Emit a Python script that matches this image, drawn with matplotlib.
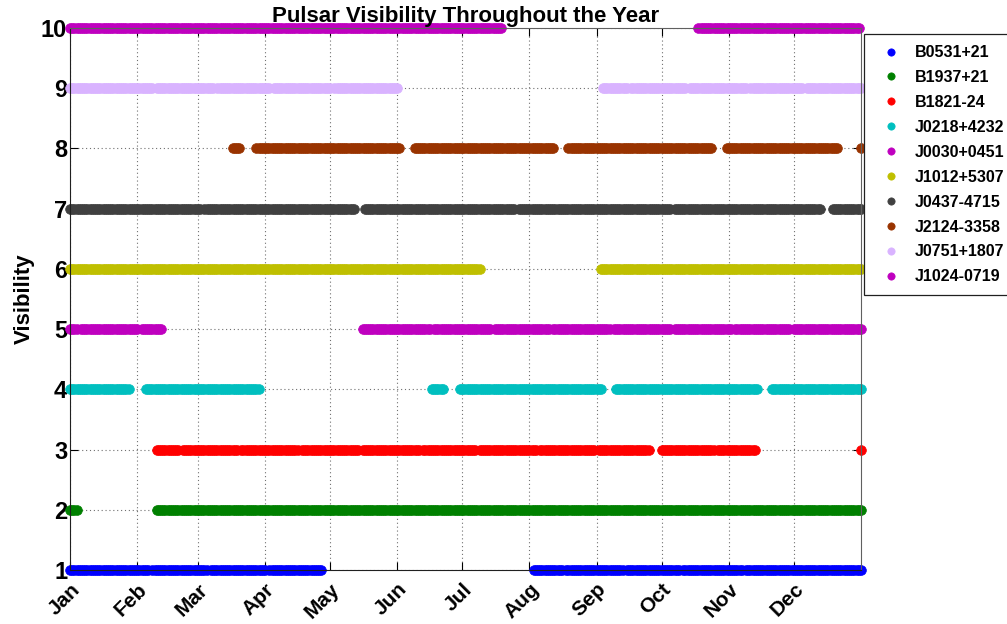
import numpy as np
import matplotlib
matplotlib.use("Agg")
import matplotlib.pyplot as plt
import matplotlib.transforms as mtransforms

names = ["B0531+21", "B1937+21", "B1821-24", "J0218+4232", "J0030+0451",
         "J1012+5307", "J0437-4715", "J2124-3358", "J0751+1807", "J1024-0719"]
colors = ["#0000ff", "#008000", "#ff0000", "#00bfbf", "#bf00bf",
          "#bfbf00", "#404040", "#993300", "#d9b3ff", "#bf00bf"]
levels = [1, 2, 3, 4, 5, 6, 7, 8, 9, 10]

# visible day ranges (day of year, inclusive) for each pulsar
segments = [
    [(1, 117), (215, 366)],
    [(1, 4), (41, 366)],
    [(41, 268), (274, 317), (366, 366)],
    [(1, 28), (36, 88), (168, 173), (181, 246), (253, 318), (325, 366)],
    [(1, 43), (136, 366)],
    [(1, 190), (246, 366)],
    [(1, 132), (137, 347), (353, 366)],
    [(76, 79), (87, 153), (160, 224), (231, 297), (304, 355), (366, 366)],
    [(1, 152), (247, 366)],
    [(1, 200), (291, 365)],
]
# single missing days inside the ranges
skip_days = [
    [38, 65, 92, 229, 257, 283, 312],
    [],
    [52, 79, 107, 135, 163, 189, 217, 244, 299],
    [],
    [5, 33, 168, 196, 223, 251, 279, 307, 334],
    [],
    [62, 207, 279],
    [],
    [40, 68, 94, 122, 259, 286, 314, 340],
    [],
]

month_days = [1, 32, 60, 91, 121, 152, 182, 213, 244, 274, 305, 335]
month_labels = ["Jan", "Feb", "Mar", "Apr", "May", "Jun",
                "Jul", "Aug", "Sep", "Oct", "Nov", "Dec"]


def visible_days(segs, skips):
    days = []
    for start, end in segs:
        days.extend(d for d in range(start, end + 1) if d not in skips)
    return np.array(days)


plt.rcParams["font.family"] = ["Liberation Sans", "DejaVu Sans"]
plt.rcParams["font.weight"] = "bold"

fig = plt.figure(figsize=(10.07, 6.24), dpi=100)
ax = fig.add_axes([70 / 1007, 54 / 624, 791 / 1007, 542 / 624])

for name, color, level, segs, skips in zip(names, colors, levels, segments, skip_days):
    days = visible_days(segs, skips)
    ax.plot(days, np.full(len(days), level), linestyle="none", marker="o",
            markersize=7, markerfacecolor=color, markeredgecolor=color,
            markeredgewidth=0.5, clip_on=False, label=name)

ax.set_xlim(1, 366)
ax.set_ylim(1, 10)
ax.set_yticks(levels)
ax.set_xticks(month_days)
ax.set_xticklabels(month_labels, rotation=45, ha="right", va="top",
                   rotation_mode="anchor", fontsize=15, fontweight="bold")
# nudge the rotated month labels a little to the right
shift = mtransforms.ScaledTranslation(5 / 100, 0, fig.dpi_scale_trans)
for lab in ax.get_xticklabels():
    lab.set_transform(lab.get_transform() + shift)
ax.tick_params(axis="y", labelsize=17, pad=2)
ax.tick_params(direction="in", length=6, width=0.8, top=True, right=True)
ax.tick_params(axis="x", pad=7)
for lab in ax.get_yticklabels():
    lab.set_fontweight("bold")

ax.grid(True, linestyle=(0, (1, 2.5)), color="#707070", linewidth=0.8)
ax.set_axisbelow(True)
for side in ["left", "bottom"]:
    ax.spines[side].set_color("#202020")
for side in ["top", "right"]:
    ax.spines[side].set_color("#606060")

ax.set_ylabel("Visibility", fontsize=16, fontweight="bold", labelpad=4.5)
ax.set_title("Pulsar Visibility Throughout the Year", fontsize=16,
             fontweight="bold", pad=4)

leg = ax.legend(loc="upper left", bbox_to_anchor=(864 / 1007, 1 - 34 / 624),
                bbox_transform=fig.transFigure, fontsize=11.5, numpoints=1,
                markerscale=0.75, handlelength=2.0, handletextpad=0.5,
                labelspacing=0.62, borderpad=0.7, borderaxespad=0,
                fancybox=False, framealpha=1)
leg.get_frame().set_edgecolor("#202020")
leg.get_frame().set_linewidth(0.9)
for t in leg.get_texts():
    t.set_fontweight("bold")

fig.savefig("out.png", dpi=100)
